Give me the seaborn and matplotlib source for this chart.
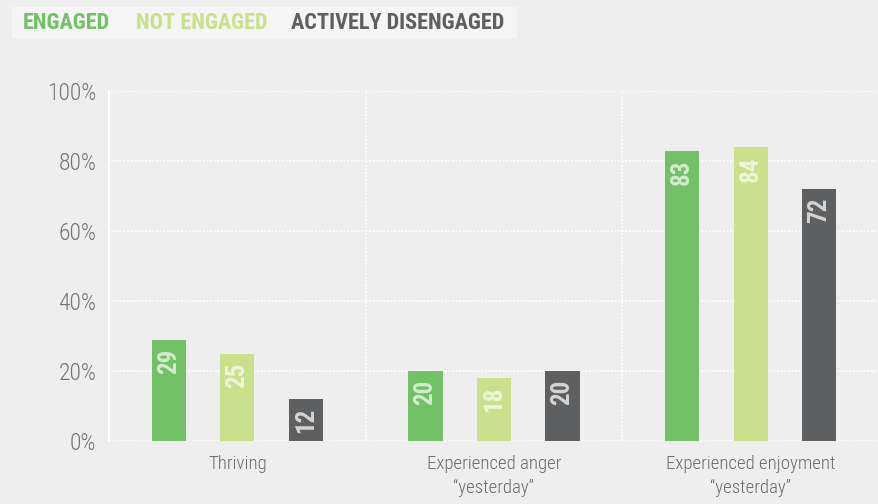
import matplotlib
matplotlib.use("Agg")
import matplotlib.pyplot as plt
from matplotlib import font_manager
from matplotlib.patches import Rectangle
import pandas as pd
import seaborn as sns

categories = ["Thriving", "Experienced anger\n\u201cyesterday\u201d", "Experienced enjoyment\n\u201cyesterday\u201d"]
groups = ["ENGAGED", "NOT ENGAGED", "ACTIVELY DISENGAGED"]
engaged = [29, 20, 83]
not_engaged = [25, 18, 84]
actively_disengaged = [12, 20, 72]
y_ticks = [0, 20, 40, 60, 80, 100]
y_tick_labels = ["0%", "20%", "40%", "60%", "80%", "100%"]

colors = ["#72c167", "#c9e08c", "#5e5f61"]
label_colors = ["#d3ecce", "#eef6da", "#d4d4d4"]
bg = "#eeeeee"

available = {f.name for f in font_manager.fontManager.ttflist}
cond = next((n for n in ["Roboto Condensed", "Open Sans Condensed", "Liberation Sans Narrow",
                         "DejaVu Sans Condensed", "Roboto", "DejaVu Sans"] if n in available), "DejaVu Sans")

sns.set_theme(style="white")
plt.rcParams["font.family"] = [cond, "DejaVu Sans"]

df = pd.DataFrame({
    "category": categories * 3,
    "group": [g for g in groups for _ in categories],
    "value": engaged + not_engaged + actively_disengaged,
})

fig = plt.figure(figsize=(8.79, 5.04), dpi=100, facecolor=bg)
ax = fig.add_axes([109 / 879, 63 / 504, 1 - 109 / 879, 350 / 504])
ax.set_facecolor(bg)

sns.barplot(data=df, x="category", y="value", hue="group", order=categories,
            hue_order=groups, palette=colors, width=0.8, gap=0.5,
            saturation=1, legend=False, linewidth=0, ax=ax, zorder=3)

ax.set_ylim(0, 100)
ax.set_xlim(-0.5, 2.5)
ax.set_yticks(y_ticks)
ax.set_yticklabels(y_tick_labels, fontweight="light")
ax.set_xticks(range(len(categories)))
ax.set_xticklabels(categories, fontweight="light", linespacing=1.45)
ax.set_xlabel("")
ax.set_ylabel("")
ax.tick_params(axis="y", length=0, pad=9, labelsize=17, labelcolor="#737373")
ax.tick_params(axis="x", length=0, pad=10, labelsize=13.5, labelcolor="#6a6a6a")

dotted = dict(color="white", lw=1.3, linestyle=(0, (1, 1)), zorder=1)
for y in y_ticks:
    ax.axhline(y, **dotted)
for x in [0.5, 1.5]:
    ax.axvline(x, **dotted)
for s in ["top", "right", "bottom"]:
    ax.spines[s].set_visible(False)
ax.spines["left"].set_color("white")
ax.spines["left"].set_linewidth(1.5)

series = [engaged, not_engaged, actively_disengaged]
for container, vals, lc in zip(ax.containers, series, label_colors):
    for patch, v in zip(container.patches, vals):
        xc = patch.get_x() + patch.get_width() / 2
        ax.text(xc, v - 2.6, str(v), rotation=90, ha="center", va="top",
                fontsize=18, fontweight="bold", color=lc, zorder=4)

# legend strip at the top
fig.patches.append(Rectangle((12 / 879, 1 - 38 / 504), 505 / 879, 31 / 504,
                             transform=fig.transFigure, facecolor="#f5f5f5",
                             edgecolor="none", zorder=0))
legend_x = [23, 136, 291]
for x, g, c in zip(legend_x, groups, colors):
    fig.text(x / 879, 1 - 23 / 504, g, ha="left", va="center", fontsize=16,
             fontweight="bold", color=c)

fig.savefig("out.png", dpi=100, facecolor=bg)
